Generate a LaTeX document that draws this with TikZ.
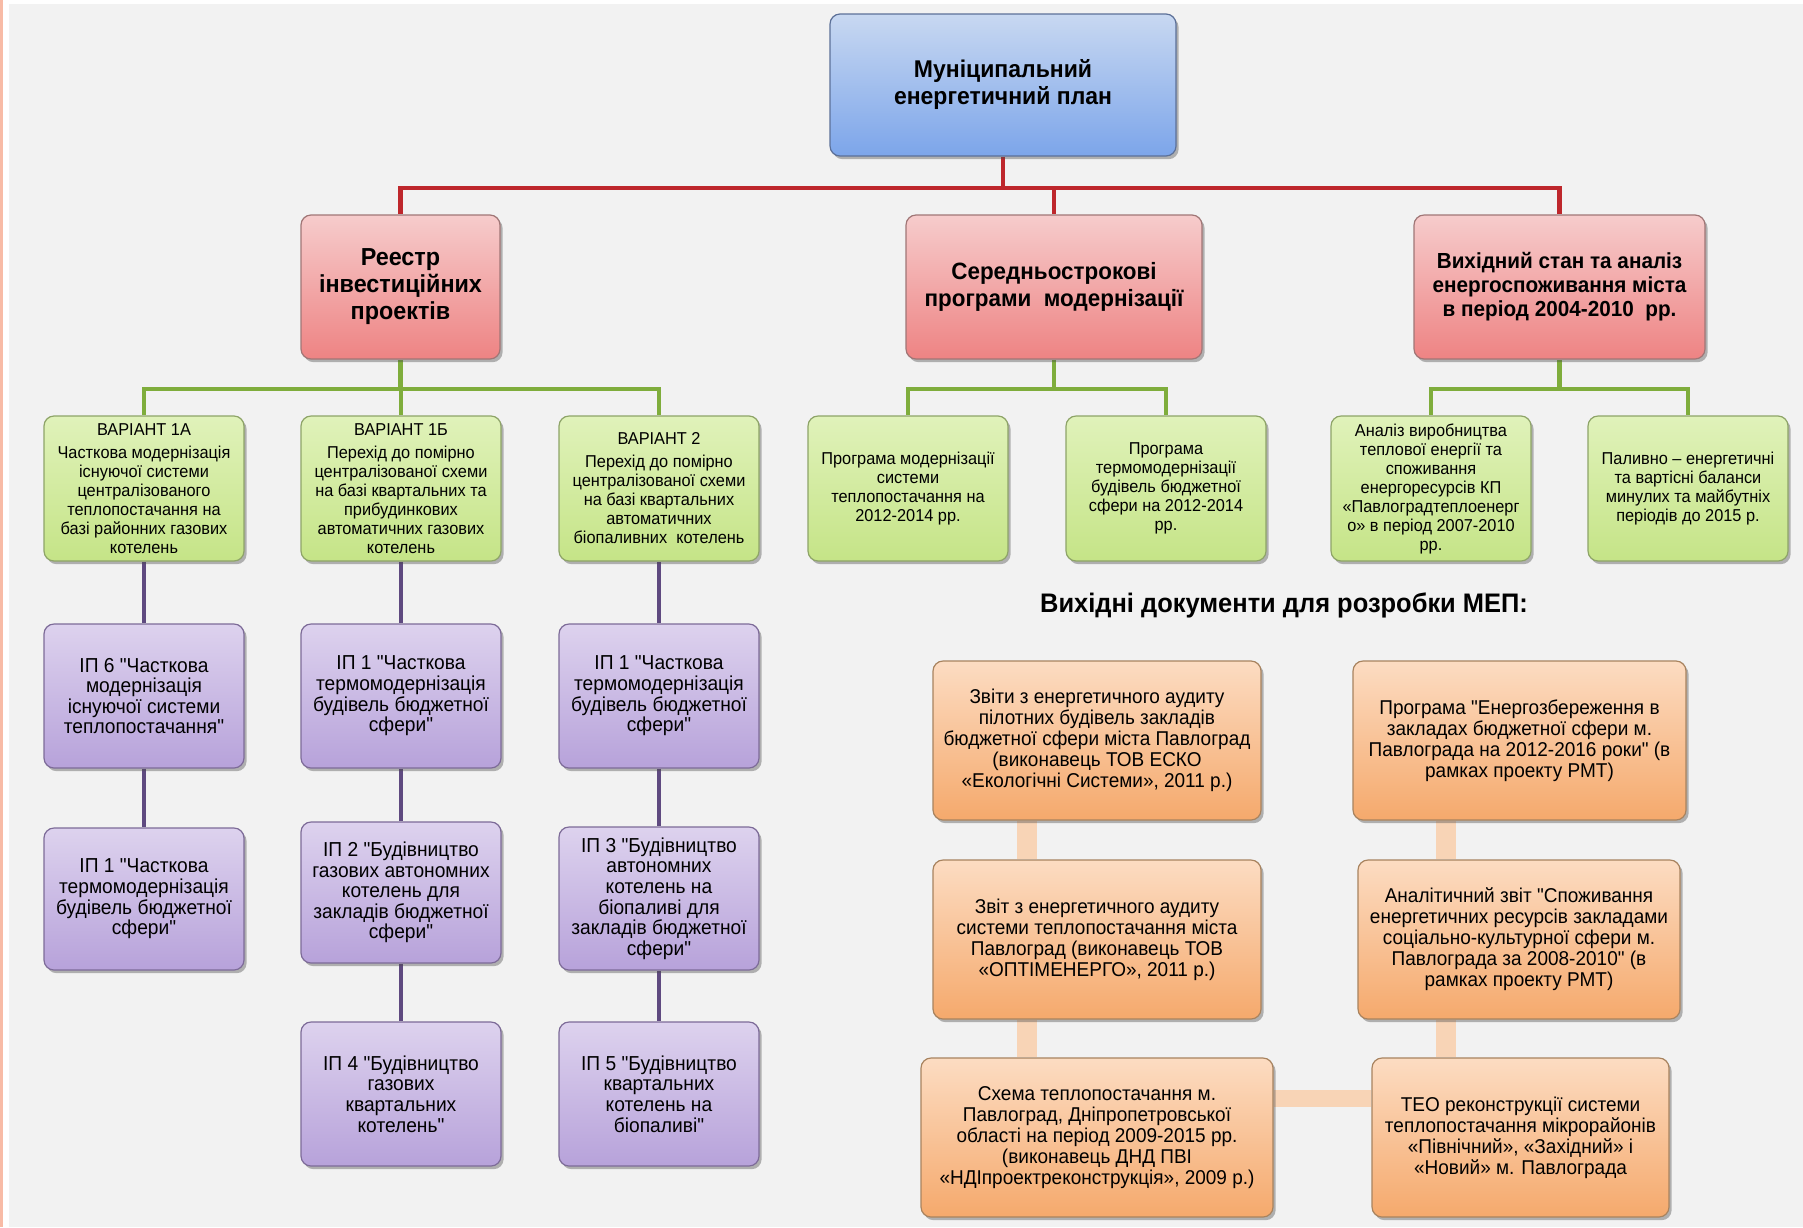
\documentclass[tikz,border=0pt]{standalone}
\usepackage{fontspec}
\setmainfont{Liberation Sans}[FakeStretch=0.95, Ligatures=TeXOff]
\usetikzlibrary{shadows,calc}
\definecolor{bggray}{HTML}{F2F2F2}
\definecolor{salmonc}{HTML}{F8BBA6}
\definecolor{bluetop}{HTML}{C8D8F1}
\definecolor{bluebot}{HTML}{7CA5EA}
\definecolor{blueedge}{HTML}{5C7098}
\definecolor{redtop}{HTML}{F6CCCC}
\definecolor{redbot}{HTML}{EE8383}
\definecolor{rededge}{HTML}{A07676}
\definecolor{greentop}{HTML}{E0F2BA}
\definecolor{greenbot}{HTML}{C5E487}
\definecolor{greenedge}{HTML}{8EA468}
\definecolor{purptop}{HTML}{DDD2EE}
\definecolor{purpbot}{HTML}{B7A2DA}
\definecolor{purpedge}{HTML}{7D6B98}
\definecolor{orantop}{HTML}{FCDCC2}
\definecolor{oranbot}{HTML}{F5A96C}
\definecolor{oranedge}{HTML}{A8835F}
\definecolor{redln}{HTML}{BE272C}
\definecolor{greenln}{HTML}{7FAD3C}
\definecolor{purpln}{HTML}{5F4A80}
\definecolor{oranln}{HTML}{F8D4B6}
\pgfdeclarelayer{bgl}
\pgfdeclarelayer{lnl}
\pgfsetlayers{bgl,lnl,main}
\newcommand\fsz[2]{\fontsize{#1}{#2}\selectfont}
\tikzset{
  basebox/.style={rounded corners=5pt, line width=0.6pt, align=center, inner sep=1pt,
    drop shadow={shadow xshift=1.3pt, shadow yshift=-1.6pt, opacity=0.4, fill=black!70}},
  topbox/.style={basebox, draw=blueedge, top color=bluetop, bottom color=bluebot,
    font=\bfseries\fsz{12.1}{13.5}},
  redbox/.style={basebox, draw=rededge, top color=redtop, bottom color=redbot,
    minimum height=72pt},
  greenbox/.style={basebox, draw=greenedge, top color=greentop, bottom color=greenbot,
    minimum width=100pt, minimum height=72.5pt, font=\fsz{8.6}{9.5}},
  purplebox/.style={basebox, draw=purpedge, top color=purptop, bottom color=purpbot,
    minimum width=100pt, font=\fsz{10.1}{10.3}},
  orangebox/.style={basebox, draw=oranedge, top color=orantop, bottom color=oranbot,
    minimum height=79.5pt, font=\fsz{10}{10.5}},
  redline/.style={draw=redln, line width=2.1pt},
  greenline/.style={draw=greenln, line width=2.1pt},
  purpleline/.style={draw=purpln, line width=2.3pt},
  orangeline/.style={draw=oranln, line width=#1},
  orangeline/.default=10pt
}
\begin{document}
\begin{tikzpicture}[x=0.5pt,y=-0.5pt]
\begin{pgfonlayer}{bgl}
\fill[white] (0,0) rectangle (1803,1227);
\fill[bggray] (9,4) rectangle (1803,1227);
\fill[salmonc] (0,0) rectangle (2.5,1227);
\end{pgfonlayer}
\useasboundingbox (0,0) rectangle (1803,1227);

% level 1
\node[topbox, minimum width=173pt, minimum height=71pt] (top) at (1003,85)
  {Муніципальний\\енергетичний план};

% level 2
\node[redbox, minimum width=99.5pt, font=\bfseries\fsz{12.3}{13.5}] (reestr) at (400.5,287)
  {Реестр\\інвестиційних\\проектів};
\node[redbox, minimum width=148pt, font=\bfseries\fsz{11.8}{13.3}] (sered) at (1054,287)
  {Середньострокові\\програми\ \ модернізації};
\node[redbox, minimum width=145.5pt, font=\bfseries\fsz{10.9}{12}] (vyh) at (1559.5,287)
  {Вихідний стан та аналіз\\енергоспоживання міста\\в період 2004-2010\ \ рр.};

% level 3
\node[greenbox] (g1) at (144,488.5)
  {ВАРІАНТ 1А\\[2pt]Часткова модернізація\\існуючої системи\\централізованого\\теплопостачання на\\базі районних газових\\котелень};
\node[greenbox] (g2) at (401,488.5)
  {ВАРІАНТ 1Б\\[2pt]Перехід до помірно\\централізованої схеми\\на базі квартальних та\\прибудинкових\\автоматичних газових\\котелень};
\node[greenbox] (g3) at (659,488.5)
  {ВАРІАНТ 2\\[2pt]Перехід до помірно\\централізованої схеми\\на базі квартальних\\автоматичних\\біопаливних\ \ котелень};
\node[greenbox] (g4) at (908,488.5)
  {Програма модернізації\\системи\\теплопостачання на\\2012-2014 рр.};
\node[greenbox] (g5) at (1166,488.5)
  {Програма\\термомодернізації\\будівель бюджетної\\сфери на 2012-2014\\рр.};
\node[greenbox] (g6) at (1431,488.5)
  {Аналіз виробництва\\теплової енергії та\\споживання\\енергоресурсів КП\\«Павлоградтеплоенерг\\о» в період 2007-2010\\рр.};
\node[greenbox] (g7) at (1688,488.5)
  {Паливно – енергетичні\\та вартісні баланси\\минулих та майбутніх\\періодів до 2015 р.};

% purple column 1
\node[purplebox, minimum height=72pt] (p11) at (144,696)
  {ІП 6 "Часткова\\модернізація\\існуючої системи\\теплопостачання"};
\node[purplebox, minimum height=71pt] (p12) at (144,899)
  {ІП 1 "Часткова\\термомодернізація\\будівель бюджетної\\сфери"};
% purple column 2
\node[purplebox, minimum height=72pt] (p21) at (401,696)
  {ІП 1 "Часткова\\термомодернізація\\будівель бюджетної\\сфери"};
\node[purplebox, minimum height=70.5pt] (p22) at (401,892.5)
  {ІП 2 "Будівництво\\газових автономних\\котелень для\\закладів бюджетної\\сфери"};
\node[purplebox, minimum height=72pt] (p23) at (401,1094)
  {ІП 4 "Будівництво\\газових\\квартальних\\котелень"};
% purple column 3
\node[purplebox, minimum height=72pt] (p31) at (659,696)
  {ІП 1 "Часткова\\термомодернізація\\будівель бюджетної\\сфери"};
\node[purplebox, minimum height=71.5pt] (p32) at (659,898.5)
  {ІП 3 "Будівництво\\автономних\\котелень на\\біопаливі для\\закладів бюджетної\\сфери"};
\node[purplebox, minimum height=72pt] (p33) at (659,1094)
  {ІП 5 "Будівництво\\квартальних\\котелень на\\біопаливі"};

% heading
\node[font=\bfseries\fsz{13.4}{15}, inner sep=0pt] (head) at (1284,605)
  {Вихідні документи для розробки МЕП:};

% orange documents
\node[orangebox, minimum width=164pt] (oA) at (1097,740.5)
  {Звіти з енергетичного аудиту\\пілотних будівель закладів\\бюджетної сфери міста Павлоград\\(виконавець ТОВ ЕСКО\\«Екологічні Системи», 2011 р.)};
\node[orangebox, minimum width=166.5pt] (oB) at (1519.5,740.5)
  {Програма "Енергозбереження в\\закладах бюджетної сфери м.\\Павлограда на 2012-2016 роки" (в\\рамках проекту РМТ)};
\node[orangebox, minimum width=164pt] (oC) at (1097,939.5)
  {Звіт з енергетичного аудиту\\системи теплопостачання міста\\Павлоград (виконавець ТОВ\\«ОПТІМЕНЕРГО», 2011 р.)};
\node[orangebox, minimum width=161pt] (oD) at (1519,939.5)
  {Аналітичний звіт "Споживання\\енергетичних ресурсів закладами\\соціально-культурної сфери м.\\Павлограда за 2008-2010" (в\\рамках проекту РМТ)};
\node[orangebox, minimum width=176pt] (oE) at (1097,1137.5)
  {Схема теплопостачання м.\\Павлоград, Дніпропетровської\\області на період 2009-2015 рр.\\(виконавець ДНД ПВІ\\«НДІпроектреконструкція», 2009 р.)};
\node[orangebox, minimum width=148.5pt] (oF) at (1520.5,1137.5)
  {ТЕО реконструкції системи\\теплопостачання мікрорайонів\\«Північний», «Західний» і\\«Новий» м. Павлограда};

\coordinate (olx) at (1027,0);
\coordinate (orx) at (1446,0);
\coordinate (ohy) at (0,1098);

\begin{pgfonlayer}{lnl}
% red
\draw[redline] (top.south) -- ++(0,31) coordinate (rj) -| (reestr.north);
\draw[redline] (rj) -| (sered.north);
\draw[redline] (rj) -| (vyh.north);
% green
\draw[greenline] (reestr.south) -- ++(0,29) coordinate (gj1) -| (g1.north);
\draw[greenline] (gj1) -| (g2.north);
\draw[greenline] (gj1) -| (g3.north);
\draw[greenline] (sered.south) -- ++(0,29) coordinate (gj2) -| (g4.north);
\draw[greenline] (gj2) -| (g5.north);
\draw[greenline] (vyh.south) -- ++(0,29) coordinate (gj3) -| (g6.north);
\draw[greenline] (gj3) -| (g7.north);
% purple
\draw[purpleline] (g1.south) -- (p11.north);
\draw[purpleline] (p11.south) -- (p12.north);
\draw[purpleline] (g2.south) -- (p21.north);
\draw[purpleline] (p21.south) -- (p22.north);
\draw[purpleline] (p22.south) -- (p23.north);
\draw[purpleline] (g3.south) -- (p31.north);
\draw[purpleline] (p31.south) -- (p32.north);
\draw[purpleline] (p32.south) -- (p33.north);
% orange
\draw[orangeline] (oA.south -| olx) -- (oC.north -| olx);
\draw[orangeline] (oC.south -| olx) -- (oE.north -| olx);
\draw[orangeline] (oB.south -| orx) -- (oD.north -| orx);
\draw[orangeline] (oD.south -| orx) -- (oF.north -| orx);
\draw[orangeline=8.5pt] (oE.east |- ohy) -- (oF.west |- ohy);
\end{pgfonlayer}
\end{tikzpicture}
\end{document}
